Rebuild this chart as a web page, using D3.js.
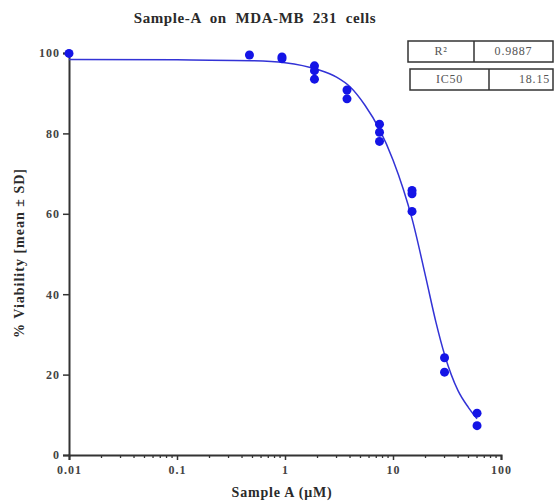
<!DOCTYPE html>
<html>
<head>
<meta charset="utf-8">
<script src="https://cdn.jsdelivr.net/npm/d3@7"></script>
<style>
  body { margin: 0; background: #fff; }
  text { font-family: "Liberation Serif", "DejaVu Serif", serif; }
</style>
</head>
<body>
<div id="container"></div>
<script>
// measured replicates (conc in uM, % viability)
const conc = [0.01, 0.46875, 0.9375, 1.875, 3.75, 7.5, 15, 30, 60];
const reps = [
    [99.9],
    [99.5],
    [99.0, 98.6],
    [96.8, 95.6, 93.5],
    [90.8, 88.6],
    [82.3, 80.3, 78.0],
    [65.8, 65.0, 60.6],
    [24.2, 20.6],
    [10.4, 7.3]
];

// fitted curve
const fitX = [0.01, 0.1, 0.5, 1, 2, 3, 4, 5.5, 7.5, 10, 12.5, 15, 20, 25, 30, 40, 50, 60];
const fitY = [98.4, 98.3, 98.1, 97.6, 95.9, 94.0, 91.6, 87.0, 81.0, 73.4, 66.0, 58.8, 44.5, 33.0, 25.0, 16.0, 11.8, 9.0];

const yTicks = [0, 20, 40, 60, 80, 100];
const xTicks = [0.01, 0.1, 1, 10, 100];
const xTickLabels = ["0.01", "0.1", "1", "10", "100"];

const stats = [["R\u00b2", "0.9887"], ["IC50", "18.15"]];

const W = 555, H = 502;
const margin = { top: 53, right: 54, bottom: 47, left: 69 },
    width = W - margin.left - margin.right,
    height = H - margin.top - margin.bottom;

const svg = d3.select("#container")
    .append("svg")
    .attr("width", W)
    .attr("height", H);

const g = svg.append("g")
    .attr("transform", `translate(${margin.left}, ${margin.top})`);

const x = d3.scaleLog().domain([0.01, 100]).range([0, width]);
const y = d3.scaleLinear().domain([0, 100]).range([height, 0]);

const blue = "#1414e6";
const ink = "#2a2a2a";

// title
svg.append("text")
    .attr("x", 255).attr("y", 23)
    .attr("text-anchor", "middle")
    .style("font-size", "15px").style("font-weight", "bold")
    .style("letter-spacing", "0.6px")
    .attr("fill", ink)
    .attr("xml:space", "preserve")
    .text("Sample-A  on  MDA-MB  231  cells");

// minor ticks on x axis
const minor = [];
for (let e = -2; e < 2; e++) {
    for (let m = 2; m <= 9; m++) minor.push(m * Math.pow(10, e));
}
g.selectAll(".minor")
    .data(minor)
    .enter().append("line")
    .attr("x1", d => x(d)).attr("x2", d => x(d))
    .attr("y1", height).attr("y2", height + 3)
    .attr("stroke", "#333").attr("stroke-width", 1.3);

// X axis
const xAxis = g.append("g")
    .attr("transform", `translate(0, ${height})`)
    .call(d3.axisBottom(x).tickValues(xTicks).tickFormat((d, i) => xTickLabels[i]).tickSize(5).tickPadding(5));
xAxis.select(".domain").attr("stroke", "#333").attr("stroke-width", 2);
xAxis.selectAll(".tick line").attr("stroke", "#333").attr("stroke-width", 1.5);
xAxis.selectAll("text")
    .style("font-family", "Liberation Serif, serif")
    .style("font-size", "12px").style("font-weight", "bold")
    .style("letter-spacing", "1px").attr("fill", "#444");

// Y axis
const yAxis = g.append("g")
    .call(d3.axisLeft(y).tickValues(yTicks).tickSize(6).tickPadding(3));
yAxis.select(".domain").attr("stroke", "#333").attr("stroke-width", 2);
yAxis.selectAll(".tick line").attr("stroke", "#333").attr("stroke-width", 1.5);
yAxis.selectAll("text")
    .style("font-family", "Liberation Serif, serif")
    .style("font-size", "12px").style("font-weight", "bold")
    .style("letter-spacing", "1px").attr("fill", "#444");

// axis titles
svg.append("text")
    .attr("x", 282).attr("y", 497)
    .attr("text-anchor", "middle")
    .style("font-size", "14px").style("font-weight", "bold")
    .style("letter-spacing", "0.8px")
    .attr("fill", ink)
    .text("Sample A (\u03bcM)");

svg.append("text")
    .attr("transform", "translate(24, 253) rotate(-90)")
    .attr("text-anchor", "middle")
    .style("font-size", "14px").style("font-weight", "bold")
    .style("letter-spacing", "1px")
    .attr("fill", ink)
    .text("% Viability [mean \u00b1 SD]");

// fitted curve
const fit = fitX.map((d, i) => [d, fitY[i]]);
g.append("path")
    .datum(fit)
    .attr("fill", "none")
    .attr("stroke", "#3333d6")
    .attr("stroke-width", 1.5)
    .attr("d", d3.line().x(d => x(d[0])).y(d => y(d[1])).curve(d3.curveMonotoneX));

// replicate points
const pts = [];
conc.forEach((c, i) => reps[i].forEach(v => pts.push({ c: c, v: v })));
g.selectAll(".pt")
    .data(pts)
    .enter().append("circle")
    .attr("cx", d => x(d.c))
    .attr("cy", d => y(d.v))
    .attr("r", 4.5)
    .attr("fill", blue);

// stats boxes
const boxes = svg.append("g");
const boxX = [[408, 474, 553], [410, 489, 553]];
const boxY = [[41, 62], [69, 90]];
stats.forEach((s, i) => {
    const bx = boxX[i], by = boxY[i];
    boxes.append("rect")
        .attr("x", bx[0]).attr("y", by[0])
        .attr("width", bx[2] - bx[0]).attr("height", by[1] - by[0])
        .attr("fill", "none").attr("stroke", "#333").attr("stroke-width", 1.5);
    boxes.append("line")
        .attr("x1", bx[1]).attr("x2", bx[1])
        .attr("y1", by[0]).attr("y2", by[1])
        .attr("stroke", "#333").attr("stroke-width", 1.5);
    boxes.append("text")
        .attr("x", (bx[0] + bx[1]) / 2).attr("y", by[0] + 14)
        .attr("text-anchor", "middle")
        .style("font-size", "12px").style("letter-spacing", "0.8px").attr("fill", "#555")
        .text(s[0]);
    boxes.append("text")
        .attr("x", i === 0 ? (bx[1] + bx[2]) / 2 : bx[2] - 3).attr("y", by[0] + 14)
        .attr("text-anchor", i === 0 ? "middle" : "end")
        .style("font-size", "12px").style("letter-spacing", "0.8px").attr("fill", "#555")
        .text(s[1]);
});
</script>
</body>
</html>
